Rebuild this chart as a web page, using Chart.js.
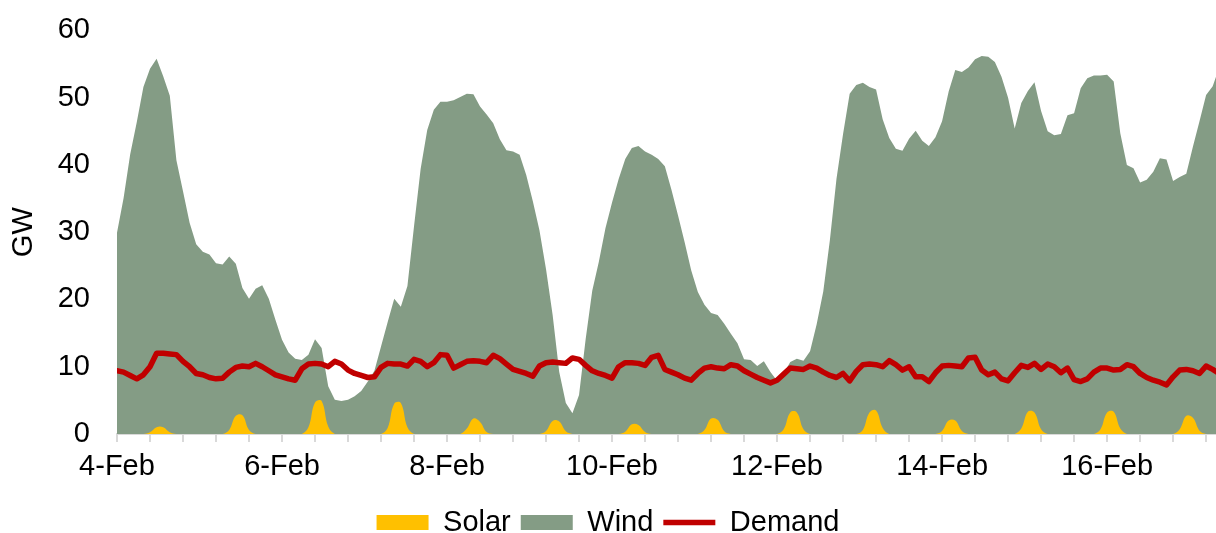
<!DOCTYPE html>
<html lang="en">
<head>
<meta charset="UTF-8">
<title>Solar, wind and demand (GW)</title>
<style>
  html, body { margin:0; padding:0; background:#fff; }
  #wrap { width:1216px; height:533px; }
</style>
<script src="https://cdn.jsdelivr.net/npm/chart.js"></script>
</head>
<body>
<div id="wrap"><canvas id="chart" width="1216" height="533"></canvas></div>
<script>
  // readings every 2 hours, starting 4-Feb 00:00
  const stepHours = 2;

  const windGW = [
    29.9, 35.1, 41.6, 46.4, 51.6, 54.3, 55.8, 53.2, 50.3, 40.7, 36.1, 31.4,
    28.2, 27.1, 26.7, 25.4, 25.2, 26.4, 25.3, 21.7, 20.1, 21.6, 22.1, 20.1,
    17.0, 14.0, 12.1, 11.2, 11.0, 11.8, 14.1, 12.8, 7.1, 5.1, 4.9, 5.1,
    5.6, 6.4, 7.8, 9.4, 13.0, 16.6, 20.1, 18.9, 22.0, 30.9, 39.4, 45.2,
    48.2, 49.4, 49.4, 49.6, 50.1, 50.6, 50.5, 48.7, 47.5, 46.2, 43.8, 42.2,
    42.0, 41.5, 38.5, 34.6, 30.3, 24.5, 17.7, 9.2, 4.6, 3.1, 5.8, 14.1,
    21.3, 25.6, 30.6, 34.4, 37.9, 40.9, 42.5, 42.8, 42.0, 41.5, 40.9, 39.8,
    36.3, 32.5, 28.5, 24.3, 21.1, 19.2, 18.0, 17.7, 16.4, 14.9, 13.5, 11.1,
    11.0, 10.1, 10.8, 9.2, 7.9, 9.0, 10.7, 11.2, 10.9, 12.3, 16.3, 21.2,
    28.8, 37.9, 44.6, 50.6, 51.9, 52.2, 51.6, 51.2, 46.8, 44.0, 42.4, 42.1,
    43.9, 45.1, 43.6, 42.8, 44.1, 46.5, 50.9, 54.1, 53.8, 54.5, 55.7, 56.2,
    56.1, 55.3, 53.1, 50.0, 45.4, 49.2, 51.0, 52.3, 48.0, 45.0, 44.4, 44.6,
    47.4, 47.7, 51.4, 52.9, 53.3, 53.3, 53.4, 52.4, 44.7, 40.0, 39.5, 37.4,
    37.8, 39.0, 41.0, 40.8, 37.6, 38.2, 38.7, 42.7, 46.5, 50.4, 51.7, 54.5
  ];

  const solarGW = [
    0, 0, 0, 0, 0, 0.25, 1.0, 1.0, 0.25, 0, 0, 0,
    0, 0, 0, 0, 0, 0.6, 2.7, 2.8, 0.6, 0, 0, 0,
    0, 0, 0, 0, 0, 1.0, 4.7, 4.9, 1.1, 0, 0, 0,
    0, 0, 0, 0, 0, 0.9, 4.5, 4.6, 1.0, 0, 0, 0,
    0, 0, 0, 0, 0, 0.8, 2.3, 1.8, 0.3, 0, 0, 0,
    0, 0, 0, 0, 0, 0.45, 1.95, 1.85, 0.4, 0, 0, 0,
    0, 0, 0, 0, 0, 0.35, 1.45, 1.35, 0.3, 0, 0, 0,
    0, 0, 0, 0, 0, 0.6, 2.3, 2.1, 0.4, 0, 0, 0,
    0, 0, 0, 0, 0, 0.7, 3.2, 3.2, 0.7, 0, 0, 0,
    0, 0, 0, 0, 0, 0.6, 3.2, 3.5, 0.9, 0, 0, 0,
    0, 0, 0, 0, 0, 0.45, 2.0, 2.0, 0.45, 0, 0, 0,
    0, 0, 0, 0, 0, 0.8, 3.3, 3.2, 0.7, 0, 0, 0,
    0, 0, 0, 0, 0, 0.7, 3.2, 3.3, 0.8, 0, 0, 0,
    0, 0, 0, 0, 0, 0.7, 2.7, 2.4, 0.5, 0, 0, 0
  ];

  const demandGW = [
    9.4, 9.2, 8.7, 8.2, 8.8, 10.0, 12.0, 12.0, 11.9, 11.8, 10.8, 10.0,
    9.0, 8.8, 8.4, 8.2, 8.3, 9.2, 9.9, 10.1, 10.0, 10.5, 10.0, 9.4,
    8.8, 8.5, 8.2, 8.0, 9.7, 10.4, 10.5, 10.4, 10.0, 10.8, 10.4, 9.5,
    9.0, 8.7, 8.4, 8.5, 9.9, 10.5, 10.4, 10.4, 10.1, 11.1, 10.8, 10.0,
    10.6, 11.8, 11.7, 9.8, 10.3, 10.8, 10.9, 10.8, 10.6, 11.7, 11.2, 10.4,
    9.6, 9.3, 9.0, 8.6, 10.1, 10.6, 10.7, 10.6, 10.5, 11.3, 11.1, 10.2,
    9.4, 9.0, 8.7, 8.3, 10.0, 10.6, 10.6, 10.5, 10.2, 11.4, 11.7, 9.6,
    9.2, 8.8, 8.3, 8.0, 9.0, 9.8, 10.0, 9.8, 9.7, 10.3, 10.1, 9.4,
    8.9, 8.4, 8.0, 7.6, 8.0, 8.9, 9.8, 9.7, 9.6, 10.1, 9.8, 9.2,
    8.7, 8.4, 9.0, 7.9, 9.3, 10.3, 10.4, 10.3, 10.0, 10.9, 10.3, 9.5,
    10.0, 8.5, 8.5, 7.8, 9.1, 10.1, 10.2, 10.1, 10.0, 11.3, 11.4, 9.5,
    8.8, 9.2, 8.2, 7.9, 9.1, 10.2, 9.9, 10.5, 9.6, 10.4, 10.0, 9.1,
    9.8, 8.1, 7.8, 8.2, 9.2, 9.8, 9.8, 9.5, 9.6, 10.3, 10.0, 9.0,
    8.4, 8.0, 7.7, 7.3, 8.5, 9.5, 9.6, 9.4, 9.0, 10.1, 9.6, 9.0
  ];

  // date labels sit every 50 hours, tick marks every 10 hours
  const labelHours = [0, 50, 100, 150, 200, 250, 300];
  const dateLabels = ['4-Feb', '6-Feb', '8-Feb', '10-Feb', '12-Feb', '14-Feb', '16-Feb'];
  const tickEvery = 10;
  const lastHour = 333;

  const toPoints = arr => arr.map((v, i) => ({ x: i * stepHours, y: v }));
  const FONT = { family: 'Arial, "Liberation Sans", sans-serif', size: 29 };
  const AXIS_GREY = '#D9D9D9';

  new Chart(document.getElementById('chart'), {
    type: 'line',
    data: {
      datasets: [
        { label: 'Solar', data: toPoints(solarGW), backgroundColor: '#FFC000', borderColor: '#FFC000',
          borderWidth: 0, fill: 'origin', pointRadius: 0, pointStyle: 'rect',
          tension: 0.4, order: 1 },
        { label: 'Wind', data: toPoints(windGW), backgroundColor: '#849C85', borderColor: '#849C85',
          borderWidth: 0, fill: 'origin', pointRadius: 0, pointStyle: 'rect', order: 2 },
        { label: 'Demand', data: toPoints(demandGW), borderColor: '#C00000', backgroundColor: '#C00000',
          borderWidth: 5.5, fill: false, pointRadius: 0, pointStyle: 'line',
          borderCapStyle: 'round', borderJoinStyle: 'round', order: 0 }
      ]
    },
    options: {
      responsive: false,
      animation: false,
      devicePixelRatio: 1,
      layout: { padding: { top: 0, right: 0, bottom: -14, left: 0 } },
      plugins: {
        legend: {
          position: 'bottom',
          labels: {
            font: FONT, color: '#000', usePointStyle: true, pointStyleWidth: 52, boxHeight: 15, padding: 10,
            sort: (a, b) => a.datasetIndex - b.datasetIndex
          }
        },
        tooltip: { enabled: false }
      },
      scales: {
        x: {
          type: 'linear', min: 0, max: lastHour,
          afterBuildTicks: s => {
            const t = [];
            for (let h = 0; h <= lastHour; h += tickEvery) t.push({ value: h });
            s.ticks = t;
          },
          ticks: {
            autoSkip: false, maxRotation: 0, font: FONT, color: '#000', padding: 8,
            callback: v => { const i = labelHours.indexOf(v); return i >= 0 ? dateLabels[i] : ''; }
          },
          grid: { drawOnChartArea: false, color: AXIS_GREY, lineWidth: 2, tickLength: 8 },
          border: { color: AXIS_GREY, width: 2 },
          afterFit: s => { s.height = 64; }
        },
        y: {
          min: 0, max: 60,
          ticks: { stepSize: 10, font: FONT, color: '#000', padding: 13 },
          // invisible tick marks push the labels left without adding top padding
          grid: { drawOnChartArea: false, color: 'rgba(0,0,0,0)', tickLength: 14 },
          border: { display: false },
          title: { display: true, text: 'GW', font: FONT, color: '#000', padding: { top: 7, bottom: 0 } },
          afterFit: s => { s.width = 117; }
        }
      }
    }
  });
</script>
</body>
</html>
